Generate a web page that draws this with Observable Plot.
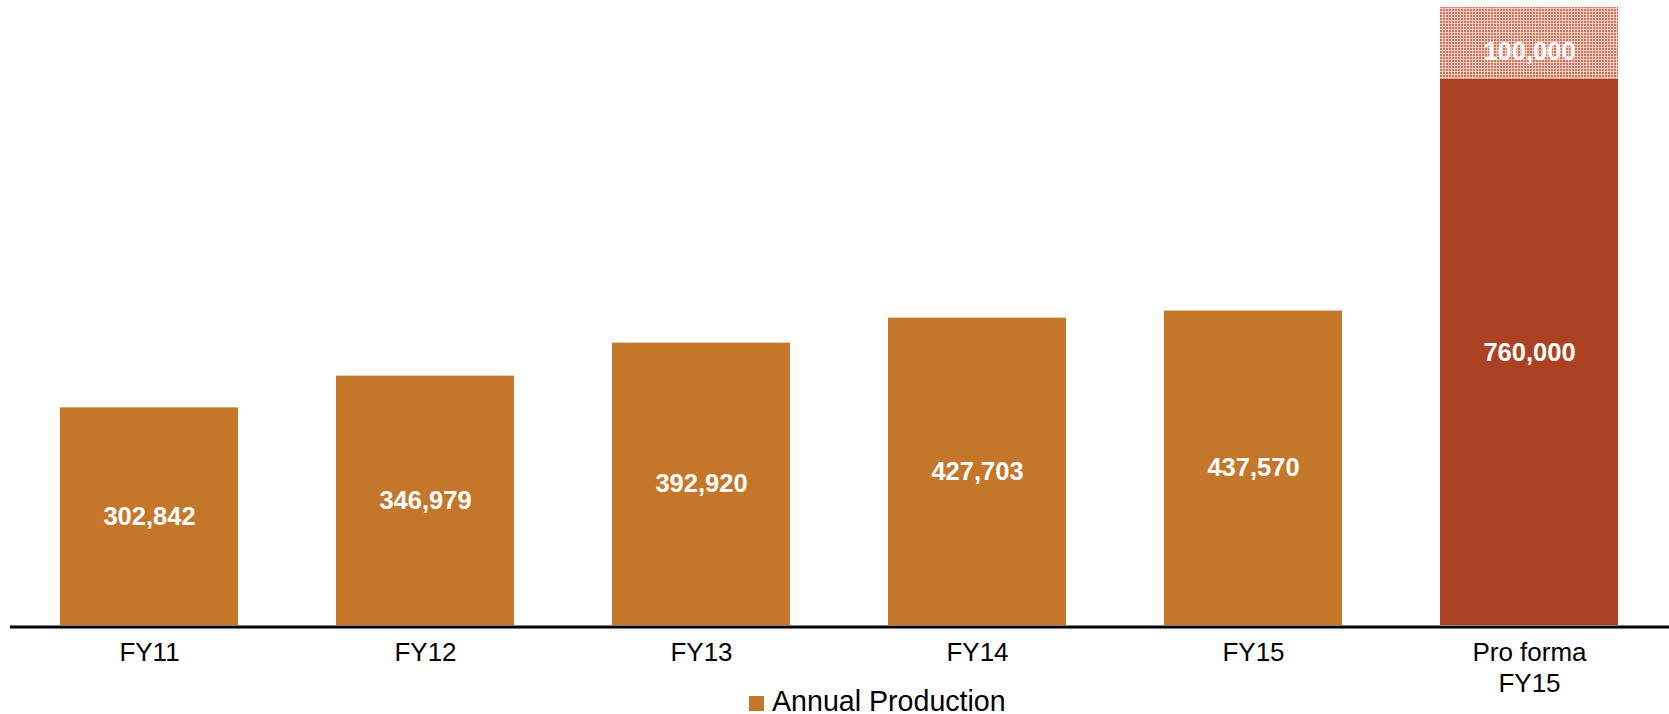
<!DOCTYPE html>
<html>
<head>
<meta charset="utf-8">
<script src="https://cdn.jsdelivr.net/npm/d3@7"></script>
<script src="https://cdn.jsdelivr.net/npm/@observablehq/plot@0.6"></script>
<style>
  html, body { margin: 0; padding: 0; background: #fff; }
  #wrap { position: relative; width: 1669px; height: 714px; font-family: "Liberation Sans", Arial, sans-serif; }
  #legend { position: absolute; left: 749px; top: 685px; display: flex; align-items: center; font-size: 28.6px; color: #000; }
  #legend .sw { width: 15px; height: 15px; background: #C4762B; margin-right: 8px; margin-top: 3px; }
</style>
</head>
<body>
<div id="wrap">
  <div id="chart"></div>
  <div id="legend"><span class="sw"></span><span>Annual Production</span></div>
</div>
<script>
const categories = ["FY11", "FY12", "FY13", "FY14", "FY15", "Pro forma\nFY15"];
const production = [302842, 346979, 392920, 427703, 437570, 760000];
const kinds = ["actual", "actual", "actual", "actual", "actual", "proforma"];
const additionCategory = ["Pro forma\nFY15"];
const additionBase = [760000];
const additionValue = [100000];

const data = categories.map((c, i) => ({ category: c, value: production[i], kind: kinds[i] }));
const addition = additionCategory.map((c, i) => ({ category: c, base: additionBase[i], value: additionValue[i] }));

const ORANGE = "#C4762B";
const RED = "#AD4124";
const fmt = d3.format(",");

const svg = Plot.plot({
  width: 1669,
  height: 685,
  marginLeft: 10,
  marginRight: 0,
  marginTop: 7,
  marginBottom: 60,
  style: { fontFamily: "'Liberation Sans', Arial, sans-serif", background: "#fff", overflow: "visible" },
  x: { domain: categories, paddingInner: 0.355, paddingOuter: 0.1765, label: null },
  y: { domain: [0, 860000], axis: null },
  color: { domain: ["actual", "proforma"], range: [ORANGE, RED] },
  marks: [
    Plot.barY(data, { x: "category", y: "value", fill: "kind" }),
    Plot.barY(addition, { x: "category", y1: "base", y2: d => d.base + d.value, fill: "url(#checker)" }),
    Plot.ruleY([0], { stroke: "#000", strokeWidth: 3, dy: 1.5 }),
    Plot.text(data, { x: "category", y: d => d.value / 2, text: d => fmt(d.value), fill: "#fff", fontWeight: "bold", fontSize: 25.5 }),
    Plot.text(addition, { x: "category", y: d => d.base + d.value / 2, text: d => fmt(d.value), fill: "#fff", fontWeight: "bold", fontSize: 25.5, dy: 8 }),
    Plot.axisX({ tickSize: 0, tickPadding: 13, fontSize: 26, lineHeight: 1.2, fill: "#000", label: null })
  ]
});

const defs = document.createElementNS("http://www.w3.org/2000/svg", "defs");
defs.innerHTML = `
  <pattern id="checker" patternUnits="userSpaceOnUse" width="3" height="3">
    <rect width="3" height="3" fill="#F0CCC0"></rect>
    <rect x="0" y="0" width="2" height="2" fill="#CB735C"></rect>
  </pattern>`;
svg.insertBefore(defs, svg.firstChild);

document.getElementById("chart").appendChild(svg);
</script>
</body>
</html>
